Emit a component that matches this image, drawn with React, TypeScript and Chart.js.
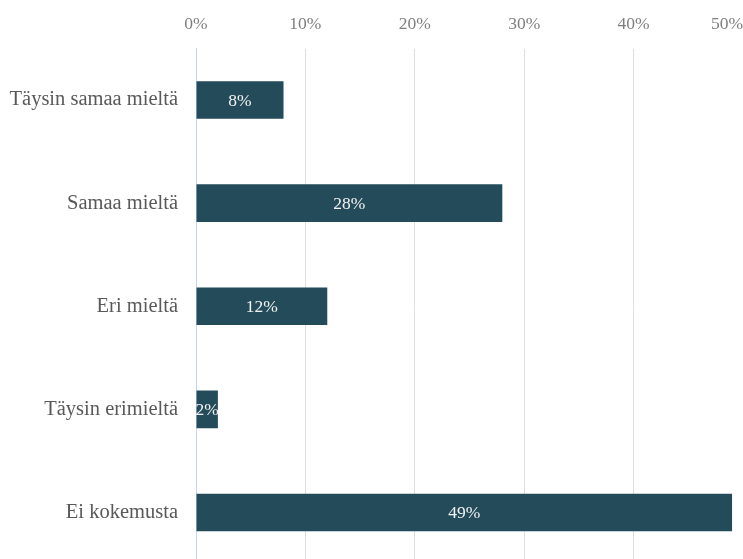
import React, { useEffect, useRef } from "react";
import { Chart, registerables } from "chart.js";

Chart.register(...registerables);

const categories = ["Täysin samaa mieltä", "Samaa mieltä", "Eri mieltä", "Täysin erimieltä", "Ei kokemusta"];
const values = [8, 28, 12, 2, 49];
const xTicks = [0, 10, 20, 30, 40, 50];

const SERIF = "'Liberation Serif', 'Times New Roman', serif";

const dataLabelPlugin = {
  id: "dataLabels",
  afterDatasetsDraw(chart: any) {
    const ctx = chart.ctx;
    const meta = chart.getDatasetMeta(0);
    ctx.save();
    ctx.fillStyle = "#f2f2f2";
    ctx.font = `17.5px ${SERIF}`;
    ctx.textAlign = "center";
    ctx.textBaseline = "middle";
    meta.data.forEach((bar: any, i: number) => {
      const cx = (bar.x + bar.base) / 2;
      ctx.fillText(`${values[i]}%`, cx, bar.y + 1);
    });
    ctx.restore();
  },
};

const lastTickAlignPlugin = {
  id: "lastTickAlign",
  beforeDraw(chart: any) {
    const sx = chart.scales.x;
    const items = sx.getLabelItems(chart.chartArea);
    if (items && items.length) {
      const last = items[items.length - 1];
      last.options.textAlign = "right";
    }
  },
};

const zeroPadding = (s: any) => {
  s.paddingLeft = 0;
  s.paddingRight = 0;
  s.paddingTop = 0;
  s.paddingBottom = 0;
};

export default function App() {
  const ref = useRef<HTMLCanvasElement | null>(null);
  useEffect(() => {
    if (!ref.current) return;
    const chart = new Chart(ref.current, {
      type: "bar",
      data: {
        labels: categories,
        datasets: [
          {
            data: values,
            backgroundColor: "#234b59",
            borderWidth: 0,
            barPercentage: 0.365,
            categoryPercentage: 1,
          },
        ],
      },
      options: {
        indexAxis: "y",
        responsive: false,
        animation: false,
        events: [],
        layout: { padding: 0, autoPadding: false },
        plugins: { legend: { display: false }, tooltip: { enabled: false } },
        scales: {
          x: {
            position: "top",
            min: 0,
            max: 50,
            afterBuildTicks: (s: any) => {
              s.ticks = xTicks.map((v) => ({ value: v }));
            },
            afterFit: (s: any) => {
              s.height = 48.5;
              zeroPadding(s);
            },
            grid: { color: "#dedede", lineWidth: 1, drawTicks: false },
            border: { display: false },
            ticks: {
              color: "#7f7f7f",
              font: { family: SERIF, size: 17.5 },
              padding: 14,
              maxRotation: 0,
              autoSkip: false,
              callback: (v: any) => `${v}%`,
            },
          },
          y: {
            afterFit: (s: any) => {
              s.width = 196;
              zeroPadding(s);
            },
            grid: { display: false, drawTicks: false },
            border: { display: true, color: "#c8d5ee", width: 1 },
            ticks: {
              color: "#595959",
              font: { family: SERIF, size: 20.5 },
              padding: 18,
            },
          },
        },
      },
      plugins: [dataLabelPlugin, lastTickAlignPlugin],
    });
    return () => chart.destroy();
  }, []);
  return (
    <div style={{ position: "fixed", left: 0, top: 0, width: 743, height: 559, overflow: "hidden", background: "#fff" }}>
      <canvas ref={ref} width={743} height={564} style={{ display: "block" }} />
    </div>
  );
}
